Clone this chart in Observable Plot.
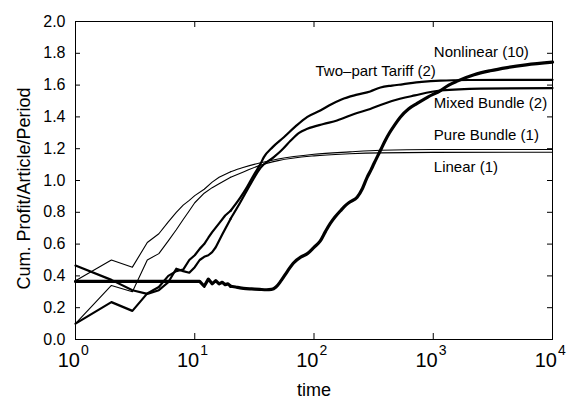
<!DOCTYPE html>
<html><head><meta charset="utf-8">
<script src="https://cdn.jsdelivr.net/npm/d3@7"></script>
<script src="https://cdn.jsdelivr.net/npm/@observablehq/plot@0.6"></script>
<style>
html,body{margin:0;padding:0;background:#fff}
</style>
</head><body><div id="chart"></div>
<script>
// ---- data ----
const nonlinearT = [1, 11, 12, 13, 14, 15, 16, 17, 18, 19, 20, 22, 24, 27, 30, 35, 40, 44, 48, 53, 60, 67, 78, 88, 100, 113, 125, 137, 150, 167, 185, 200, 230, 255, 279, 300, 320, 340, 361, 395, 430, 480, 531, 620, 733, 900, 1151, 1350, 1588, 2200, 3000, 4170, 6000, 10000];
const nonlinearV = [0.365, 0.365, 0.335, 0.38, 0.35, 0.37, 0.35, 0.36, 0.345, 0.35, 0.335, 0.33, 0.325, 0.32, 0.318, 0.315, 0.313, 0.315, 0.33, 0.37, 0.43, 0.48, 0.52, 0.54, 0.58, 0.62, 0.68, 0.73, 0.77, 0.81, 0.845, 0.865, 0.895, 0.95, 1.02, 1.065, 1.11, 1.15, 1.19, 1.25, 1.30, 1.355, 1.40, 1.45, 1.485, 1.525, 1.566, 1.60, 1.625, 1.665, 1.69, 1.71, 1.727, 1.744];

const twoPartT = [1, 2, 3, 4, 5, 6, 7, 8, 9, 10, 11, 12, 13, 14, 16, 18, 20, 24, 27.5, 31, 35.6, 38, 45, 55.9, 70, 88, 113, 140, 170, 230, 296, 361, 450, 550, 800, 1150, 2000, 4000, 10000];
const twoPartV = [0.10, 0.235, 0.18, 0.29, 0.33, 0.40, 0.43, 0.44, 0.50, 0.53, 0.57, 0.60, 0.64, 0.675, 0.73, 0.78, 0.81, 0.89, 0.96, 1.03, 1.105, 1.147, 1.21, 1.272, 1.34, 1.40, 1.44, 1.48, 1.51, 1.54, 1.56, 1.585, 1.597, 1.605, 1.62, 1.628, 1.632, 1.633, 1.633];

const mixedT = [1, 2, 3, 4, 5, 6, 7, 8, 9, 10, 11, 12, 13, 14, 15, 17, 20, 24, 29.5, 35.6, 46, 55, 63.5, 75, 88, 120, 156, 220, 296, 361, 450, 700, 1150, 2500, 10000];
const mixedV = [0.465, 0.375, 0.31, 0.287, 0.31, 0.36, 0.445, 0.43, 0.42, 0.455, 0.50, 0.52, 0.53, 0.55, 0.58, 0.66, 0.76, 0.86, 0.98, 1.08, 1.147, 1.20, 1.25, 1.30, 1.325, 1.355, 1.377, 1.42, 1.45, 1.475, 1.50, 1.535, 1.566, 1.578, 1.581];

const pureT = [1, 2, 3, 4, 5, 6, 7, 8, 9, 10, 12, 14, 16, 20, 25, 35, 50, 100, 200, 361, 1000, 10000];
const pureV = [0.37, 0.50, 0.455, 0.61, 0.665, 0.74, 0.80, 0.845, 0.875, 0.905, 0.945, 0.99, 1.02, 1.055, 1.08, 1.11, 1.135, 1.165, 1.18, 1.19, 1.195, 1.195];

const linearT = [1, 2, 3, 4, 5, 6, 7, 8, 9, 10, 12, 14, 16, 20, 25, 35, 50, 100, 200, 361, 1000, 10000];
const linearV = [0.10, 0.34, 0.30, 0.50, 0.54, 0.62, 0.69, 0.755, 0.81, 0.86, 0.92, 0.955, 0.98, 1.02, 1.05, 1.095, 1.125, 1.155, 1.168, 1.174, 1.177, 1.178];

const labelText = ["Nonlinear (10)", "Two\u2013part Tariff (2)", "Mixed Bundle (2)", "Pure Bundle (1)", "Linear (1)"];
const labelT = [1011, 103, 1011, 1011, 1011];
const labelV = [1.809, 1.69, 1.484, 1.283, 1.084];

const yTicks = [0, 0.2, 0.4, 0.6, 0.8, 1.0, 1.2, 1.4, 1.6, 1.8, 2.0];
const xTicks = [1, 10, 100, 1000, 10000];
const xExponents = ["0", "1", "2", "3", "4"];
const yTitle = "Cum. Profit/Article/Period";
const xTitle = "time";

// ---- build ----
const rows = (t, v) => t.map((d, i) => ({t: d, v: v[i]}));
const font = "'Liberation Sans', Arial, Helvetica, sans-serif";
const narrow = "'Liberation Sans Narrow', 'Liberation Sans', Arial, sans-serif";
const W = 568, H = 398, ML = 75, MR = 16, MT = 21, MB = 59;
const innerW = W - ML - MR, innerH = H - MT - MB;
const SPLIT = 20; // simulation steps are integers: straight segments early, smooth later

function series(t, v, sw) {
  const all = rows(t, v);
  const early = all.filter(d => d.t <= SPLIT);
  const late = all.filter(d => d.t >= SPLIT);
  const opts = {x: "t", y: "v", stroke: "black", strokeWidth: sw, strokeLinejoin: "round", strokeLinecap: "round"};
  return [
    Plot.line(early, {...opts, curve: "linear"}),
    Plot.line(late, {...opts, curve: "monotone-x"})
  ];
}

const chart = Plot.plot({
  width: W, height: H,
  marginLeft: ML, marginRight: MR, marginTop: MT, marginBottom: MB,
  style: {fontFamily: font, background: "#fff", color: "#000"},
  x: {type: "log", domain: [1, 10000], axis: null},
  y: {domain: [0, 2], axis: null},
  marks: [
    // ticks (inward, all four sides)
    Plot.tickY(yTicks, {y: d => d, stroke: "black", insetRight: innerW - 5}),
    Plot.tickY(yTicks, {y: d => d, stroke: "black", insetLeft: innerW - 5}),
    Plot.tickX(xTicks, {x: d => d, stroke: "black", insetTop: innerH - 6}),
    Plot.tickX(xTicks, {x: d => d, stroke: "black", insetBottom: innerH - 6}),
    // tick labels
    Plot.text(yTicks, {y: d => d, frameAnchor: "left", text: d => d.toFixed(1), textAnchor: "end", dx: -10, fontSize: 16, fill: "black"}),
    Plot.text(xTicks, {x: d => d, frameAnchor: "bottom", text: () => "10", textAnchor: "end", lineAnchor: "bottom", dx: 4.5, dy: 27, fontSize: 20, fontFamily: narrow, fill: "black"}),
    Plot.text(xTicks, {x: d => d, frameAnchor: "bottom", text: (d, i) => xExponents[i], textAnchor: "start", lineAnchor: "bottom", dx: 5.5, dy: 15.5, fontSize: 14, fontFamily: narrow, fill: "black"}),
    // axis titles
    Plot.text([yTitle], {frameAnchor: "left", text: d => d, rotate: -90, textAnchor: "middle", lineAnchor: "middle", dx: -51, dy: 8, fontSize: 18, fill: "black"}),
    Plot.text([xTitle], {frameAnchor: "bottom", text: d => d, textAnchor: "middle", lineAnchor: "bottom", dy: 56, fontSize: 18, fill: "black"}),
    // series
    ...series(pureT, pureV, 1.1),
    ...series(linearT, linearV, 1.1),
    ...series(mixedT, mixedV, 2.2),
    ...series(twoPartT, twoPartV, 2.2),
    ...series(nonlinearT, nonlinearV, 3.2),
    // line labels
    Plot.text(labelText, {x: (d, i) => labelT[i], y: (d, i) => labelV[i], text: d => d, textAnchor: "start", lineAnchor: "middle", fontSize: 15, fill: "black"}),
    Plot.frame({stroke: "black", strokeWidth: 1})
  ]
});
document.getElementById("chart").appendChild(chart);
</script>
</body></html>
